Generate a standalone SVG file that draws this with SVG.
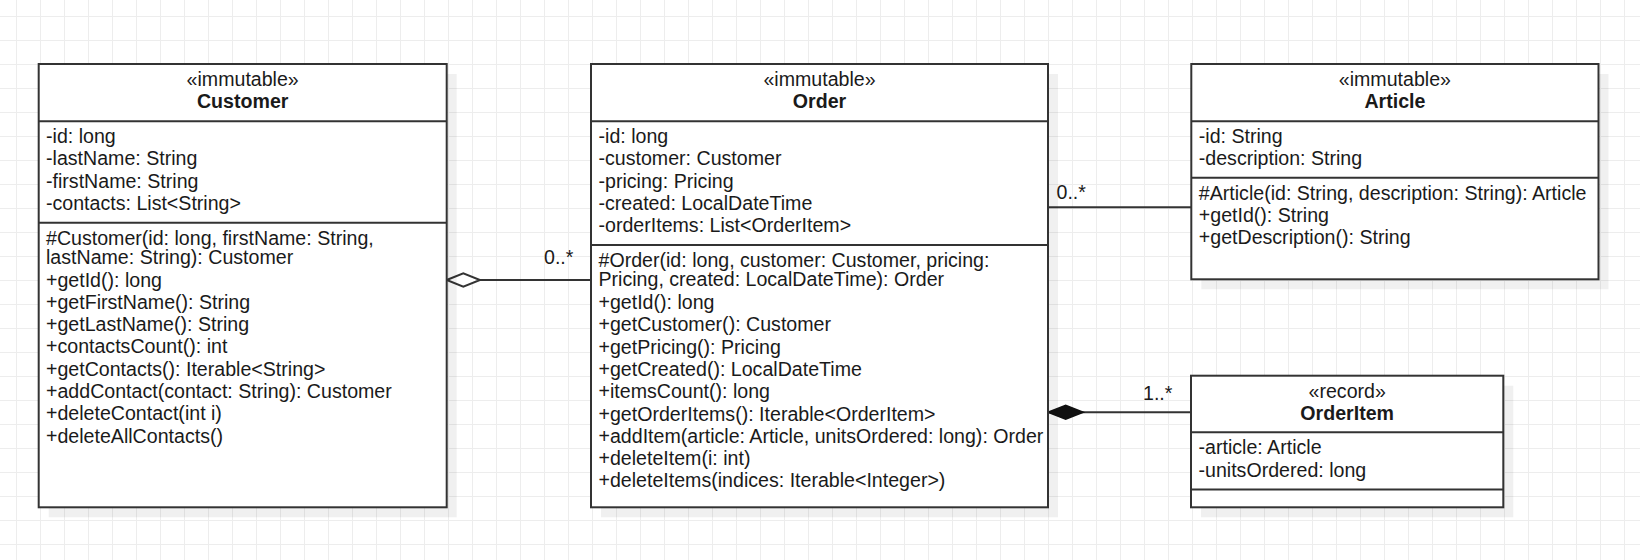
<svg xmlns="http://www.w3.org/2000/svg" width="1640" height="560" viewBox="0 0 1640 560">
  <defs>
    <pattern id="grid" x="16" y="16" width="24" height="24" patternUnits="userSpaceOnUse">
      <path d="M0 0.5H24M0.5 0V24" fill="none" stroke="#ededed" stroke-width="1"/>
    </pattern>
    <style>
      .box { fill: #ffffff; stroke: #333333; stroke-width: 2; }
      .shadow { fill: #000000; fill-opacity: 0.06; }
      .div { stroke: #333333; stroke-width: 2; fill: none; }
      .edge { stroke: #333333; stroke-width: 2; fill: none; }
      text { font-family: "Liberation Sans", Arial, Helvetica, sans-serif; font-size: 19.6px; fill: #1a1a1a; }
      .c { text-anchor: middle; }
      .b { font-weight: bold; }
    </style>
  </defs>
  <rect x="0" y="0" width="1640" height="560" fill="#ffffff"/>
  <rect x="0" y="0" width="1640" height="560" fill="url(#grid)"/>

  <g id="connectors">
    <line class="edge" x1="446.7" y1="280" x2="591" y2="280"/>
    <polygon points="446.7,280 463.3,273.3 480,280 463.3,286.7" fill="#ffffff" stroke="#333333" stroke-width="2"/>
    <text x="544" y="264">0..*</text>
    <line class="edge" x1="1048" y1="207.3" x2="1191.3" y2="207.3"/>
    <text x="1056.5" y="198.5">0..*</text>
    <line class="edge" x1="1048" y1="412.3" x2="1191" y2="412.3"/>
    <polygon points="1048,412.3 1065.7,405.3 1083.3,412.3 1065.7,419.3" fill="#111111" stroke="#111111" stroke-width="1.5"/>
    <text x="1143" y="400">1..*</text>
  </g>

  <g id="customer">
    <rect class="shadow" x="48.7" y="74" width="408" height="443.3"/>
    <rect class="box" x="38.7" y="64" width="408" height="443.3"/>
    <line class="div" x1="38.7" y1="121.3" x2="446.7" y2="121.3"/>
    <line class="div" x1="38.7" y1="222.8" x2="446.7" y2="222.8"/>
    <text class="c" x="242.7" y="86">«immutable»</text>
    <text class="c b" x="242.7" y="107.5">Customer</text>
    <text x="46" y="143">-id: long</text>
    <text x="46" y="165.3">-lastName: String</text>
    <text x="46" y="187.6">-firstName: String</text>
    <text x="46" y="209.9">-contacts: List&lt;String&gt;</text>
    <text x="46" y="244.5">#Customer(id: long, firstName: String,</text>
    <text x="46" y="263.5">lastName: String): Customer</text>
    <text x="46" y="286.5">+getId(): long</text>
    <text x="46" y="308.8">+getFirstName(): String</text>
    <text x="46" y="331.1">+getLastName(): String</text>
    <text x="46" y="353.4">+contactsCount(): int</text>
    <text x="46" y="375.7">+getContacts(): Iterable&lt;String&gt;</text>
    <text x="46" y="398">+addContact(contact: String): Customer</text>
    <text x="46" y="420.3">+deleteContact(int i)</text>
    <text x="46" y="442.6">+deleteAllContacts()</text>
  </g>

  <g id="order">
    <rect class="shadow" x="601" y="74" width="457" height="443.3"/>
    <rect class="box" x="591" y="64" width="457" height="443.3"/>
    <line class="div" x1="591" y1="121.3" x2="1048" y2="121.3"/>
    <line class="div" x1="591" y1="245" x2="1048" y2="245"/>
    <text class="c" x="819.5" y="86">«immutable»</text>
    <text class="c b" x="819.5" y="107.5">Order</text>
    <text x="598.5" y="143">-id: long</text>
    <text x="598.5" y="165.3">-customer: Customer</text>
    <text x="598.5" y="187.6">-pricing: Pricing</text>
    <text x="598.5" y="209.9">-created: LocalDateTime</text>
    <text x="598.5" y="232.2">-orderItems: List&lt;OrderItem&gt;</text>
    <text x="598.5" y="267">#Order(id: long, customer: Customer, pricing:</text>
    <text x="598.5" y="286.3">Pricing, created: LocalDateTime): Order</text>
    <text x="598.5" y="309">+getId(): long</text>
    <text x="598.5" y="331.3">+getCustomer(): Customer</text>
    <text x="598.5" y="353.6">+getPricing(): Pricing</text>
    <text x="598.5" y="375.9">+getCreated(): LocalDateTime</text>
    <text x="598.5" y="398.2">+itemsCount(): long</text>
    <text x="598.5" y="420.5">+getOrderItems(): Iterable&lt;OrderItem&gt;</text>
    <text x="598.5" y="442.8">+addItem(article: Article, unitsOrdered: long): Order</text>
    <text x="598.5" y="465.1">+deleteItem(i: int)</text>
    <text x="598.5" y="487.4">+deleteItems(indices: Iterable&lt;Integer&gt;)</text>
  </g>

  <g id="article">
    <rect class="shadow" x="1201.3" y="74" width="407.2" height="215.3"/>
    <rect class="box" x="1191.3" y="64" width="407.2" height="215.3"/>
    <line class="div" x1="1191.3" y1="121.3" x2="1598.5" y2="121.3"/>
    <line class="div" x1="1191.3" y1="177.8" x2="1598.5" y2="177.8"/>
    <text class="c" x="1394.9" y="86">«immutable»</text>
    <text class="c b" x="1394.9" y="107.5">Article</text>
    <text x="1198.8" y="143">-id: String</text>
    <text x="1198.8" y="165.3">-description: String</text>
    <text x="1198.8" y="199.5">#Article(id: String, description: String): Article</text>
    <text x="1198.8" y="221.8">+getId(): String</text>
    <text x="1198.8" y="244.1">+getDescription(): String</text>
  </g>

  <g id="orderitem">
    <rect class="shadow" x="1201" y="385.7" width="312.3" height="131.6"/>
    <rect class="box" x="1191" y="375.7" width="312.3" height="131.6"/>
    <line class="div" x1="1191" y1="432.3" x2="1503.3" y2="432.3"/>
    <line class="div" x1="1191" y1="489.5" x2="1503.3" y2="489.5"/>
    <text class="c" x="1347.2" y="398">«record»</text>
    <text class="c b" x="1347.2" y="419.5">OrderItem</text>
    <text x="1198.5" y="454.3">-article: Article</text>
    <text x="1198.5" y="476.6">-unitsOrdered: long</text>
  </g>
</svg>
